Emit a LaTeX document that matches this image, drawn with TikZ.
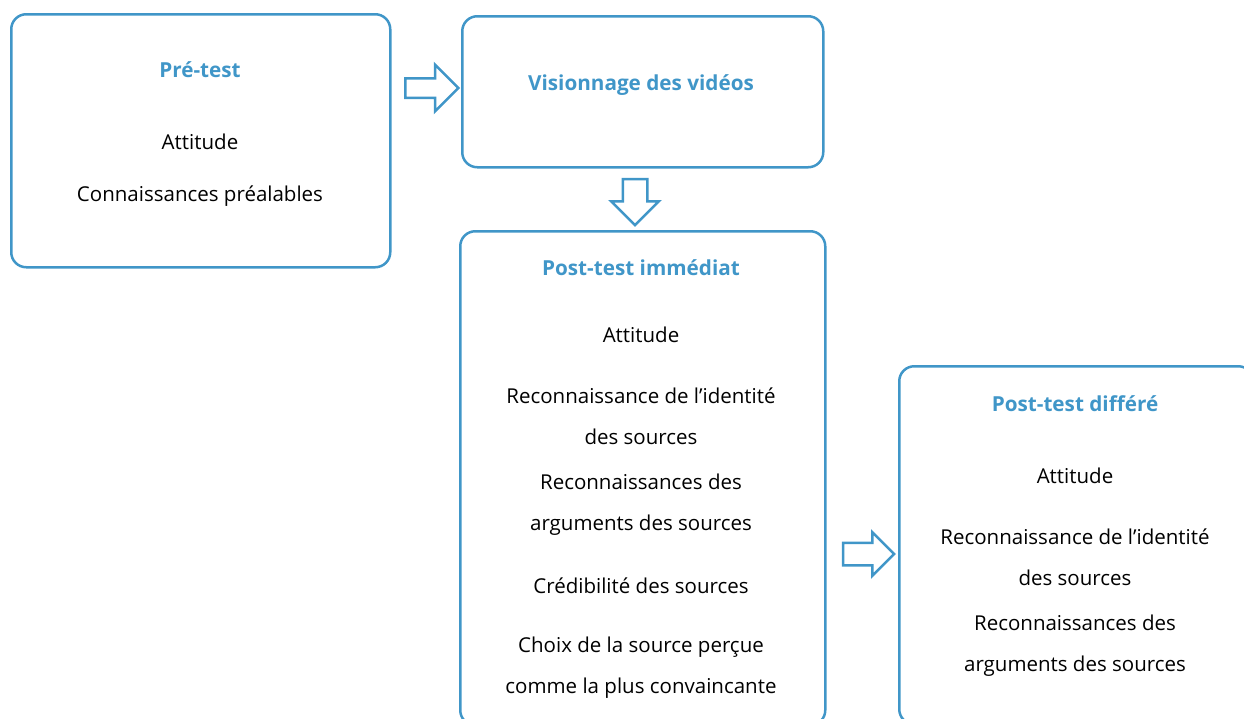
\documentclass[tikz,border=0pt]{standalone}
\usepackage{fontspec}
\setmainfont{Open Sans}
\usetikzlibrary{positioning,shapes.arrows}
\definecolor{boxblue}{RGB}{64,150,200}

\begin{document}
\begin{tikzpicture}[
  x=1pt, y=-1pt,
  stage/.style={draw=boxblue,line width=2.5pt,rounded corners=15pt,inner sep=0pt,anchor=north west},
  title/.style={text=boxblue,font=\fontsize{20.7}{22}\selectfont\bfseries},
  item/.style={font=\fontsize{20.5}{41}\selectfont,align=center},
  flow/.style={draw=boxblue,line width=2.5pt,single arrow,fill=white}
]
\useasboundingbox (0,0) rectangle (1244,718);
\clip (0,0) rectangle (1244,718);
% the four boxes
\node[stage,minimum width=379pt,minimum height=253pt] (pre) at (10,13) {};
\node[stage,minimum width=361pt,minimum height=151pt] (vis) at (461,15) {};
\node[stage,minimum width=365pt,minimum height=494pt] (post) at (459,230) {};
\node[stage,minimum width=354pt,minimum height=358pt] (diff) at (898,365) {};
% Pre-test
\node[title] (pretitle) at (200,70) {Pré-test};
\node[item] (preatt) at (200,142) {Attitude};
\node[item] (preknow) at (200,196) {Connaissances préalables};
% videos
\node[title] (vistitle) at (641,85) {Visionnage des vidéos};
% immediate post-test
\node[title] (posttitle) at (641,268) {Post-test immédiat};
\node[item] (postatt) at (641,335) {Attitude};
\node[item] (postid) at (641,416) {Reconnaissance de l’identité\\des sources};
\node[item] (postarg) at (641,505) {Reconnaissances des\\arguments des sources};
\node[item] (postcred) at (641,586) {Crédibilité des sources};
\node[item] (postchoice) at (641,668) {Choix de la source perçue\\comme la plus convaincante};
% delayed post-test
\node[title] (difftitle) at (1075,404) {Post-test différé};
\node[item] (diffatt) at (1075,476) {Attitude};
\node[item] (diffid) at (1075,557) {Reconnaissance de l’identité\\des sources};
\node[item] (diffarg) at (1075,646) {Reconnaissances des\\arguments des sources};
% block arrows
\node[flow,inner sep=8.5pt,minimum height=53pt,single arrow head extend=13.5pt] (a1) at (427,88) {};
\node[flow,inner sep=11pt,minimum height=46pt,single arrow head extend=11.5pt,shape border rotate=270] (a2) at (635,196) {};
\node[flow,inner sep=10pt,minimum height=51pt,single arrow head extend=10.5pt] (a3) at (863,554) {};
\end{tikzpicture}
\end{document}
